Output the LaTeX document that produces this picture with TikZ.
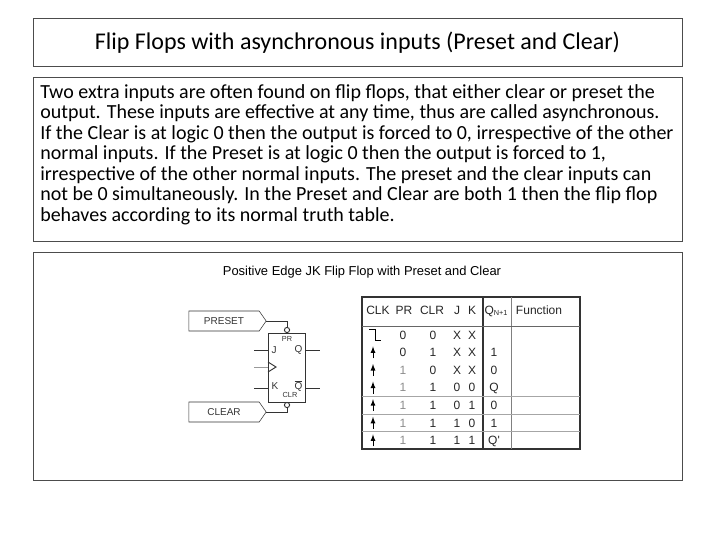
\documentclass[tikz,border=0pt]{standalone}
\usepackage{fontspec}
\setmainfont{Carlito}
\newfontfamily\arialfont{Liberation Sans}
\usetikzlibrary{shapes.geometric,shapes.symbols,arrows,positioning,calc}
\tikzset
{
    frame/.style = {draw=black!70, line width=0.6pt},
    tag/.style = {draw=black!80, signal, signal to=east, signal pointer angle=110, minimum width=58, minimum height=15, inner sep=0pt, font=\arialfont\fontsize{7.5}{8}\selectfont, text=black!80},
    pinlbl/.style = {font=\arialfont\fontsize{7.5}{8}\selectfont, inner sep=1pt, text=black!80},
    cell/.style = {font=\arialfont\fontsize{9}{10}\selectfont, inner sep=0pt, text height=6.5pt, text depth=0pt, text=black!85},
    lite/.style = {cell, text=black!45},
    wire/.style = {draw=black!80, line width=0.7pt}
}
\newcommand{\uparr}[1]{\draw[-latex, line width=0.7pt] ($(#1)+(0,6)$) -- ($(#1)+(0,-6)$);}
\begin{document}
\begin{tikzpicture}[x=0.75pt, y=-0.75pt]
    \useasboundingbox (0,0) rectangle (720,540);
    % ------------------------------------------------ boxes
    \draw[frame] (33,18) rectangle (682,66);
    \node[font=\fontsize{18}{19}\selectfont] (title) at (357.5,43) {Flip Flops with asynchronous inputs (Preset and Clear)};
    \draw[frame] (33,77) rectangle (682,241);
    \node[anchor=north west, align=left, inner sep=0pt, font=\fontsize{15}{15.4}\selectfont] (body) at (40,84)
    {Two extra inputs are often found on flip flops, that either clear or preset the\\
     output. These inputs are effective at any time, thus are called asynchronous.\\
     If the Clear is at logic 0 then the output is forced to 0, irrespective of the other\\
     normal inputs. If the Preset is at logic 0 then the output is forced to 1,\\
     irrespective of the other normal inputs. The preset and the clear inputs can\\
     not be 0 simultaneously. In the Preset and Clear are both 1 then the flip flop\\
     behaves according to its normal truth table.};
    \draw[frame] (33,252) rectangle (682,480);
    \node[font=\arialfont\fontsize{9.7}{10}\selectfont] (figtitle) at (362,272) {Positive Edge JK Flip Flop with Preset and Clear};
    % ------------------------------------------------ flip flop symbol
    \draw[wire] (268,333) rectangle (305,402);
    \node[tag] (preset) at (224,321) {PRESET\hspace{8pt}};
    \node[tag] (clear) at (224,412) {CLEAR\hspace{10pt}};
    \draw[wire] (287,330) circle (2.6);
    \draw[wire] (287,405) circle (2.6);
    \draw[wire] (preset.east) -| (287,327.4);
    \draw[wire] (clear.east) -| (287,407.6);
    \draw[wire] (254,350) -- (268,350);
    \draw[black!40, line width=0.7pt] (254,367) -- (268,367);
    \draw[wire] (268,362) -- (276,367) -- (268,372);
    \draw[wire] (254,388) -- (268,388);
    \draw[wire] (305,350) -- (320,350);
    \draw[wire] (305,388) -- (320,388);
    \node[pinlbl, anchor=west] (jpin) at (270,350) {J};
    \node[pinlbl, anchor=west] (kpin) at (270,386) {K};
    \node[pinlbl, anchor=east] (qpin) at (304,350) {Q};
    \node[pinlbl, anchor=east] (qbpin) at (304,386) {$\overline{\mbox{Q}}$};
    \node[pinlbl, font=\arialfont\fontsize{5.5}{6}\selectfont] (prpin) at (287,339) {PR};
    \node[pinlbl, font=\arialfont\fontsize{5.5}{6}\selectfont] (clrpin) at (290,395) {CLR};
    % ------------------------------------------------ truth table
    \draw[black!80, line width=0.8pt] (362,297) rectangle (580,449);
    \draw[black!80, line width=0.8pt] (483,297) -- (483,449);
    \draw[black!50] (511,297) -- (511,449);
    \draw[black!60, line width=0.6pt] (362,326) -- (580,326);
    \foreach \r in {4,5,6}
        \draw[black!35] (362,{326+17.6*\r}) -- (580,{326+17.6*\r});
    \node[cell] (hclk) at (378,310) {CLK};
    \node[cell] (hpr) at (404,310) {PR};
    \node[cell] (hclr) at (432,310) {CLR};
    \node[cell] (hj) at (457,310) {J};
    \node[cell] (hk) at (472,310) {K};
    \node[cell] (hq) at (496,310) {Q\raisebox{-1pt}{\fontsize{5.5}{6}\selectfont N+1}};
    \node[cell] (hfn) at (539,310) {Function};
    \foreach \pr/\clr/\j/\k/\q [count=\i] in {0/0/X/X/, 0/1/X/X/1, 1/0/X/X/0, 1/1/0/0/Q, 1/1/0/1/0, 1/1/1/0/1, 1/1/1/1/Q'}
    {
        \pgfmathsetmacro{\yy}{326+17.6*(\i-0.5)}
        \ifnum\i<3 \node[cell] at (403,\yy) {\pr}; \else \node[lite] at (403,\yy) {\pr}; \fi
        \node[cell] at (433,\yy) {\clr};
        \node[cell] at (457,\yy) {\j};
        \node[cell] at (472,\yy) {\k};
        \node[cell] at (494,\yy) {\q};
        \ifnum\i>1 \uparr{373,\yy} \fi
    }
    \draw[line width=0.7pt] (369,329) -- (375,329) -- (375,340) -- (381,340);
\end{tikzpicture}
\end{document}
